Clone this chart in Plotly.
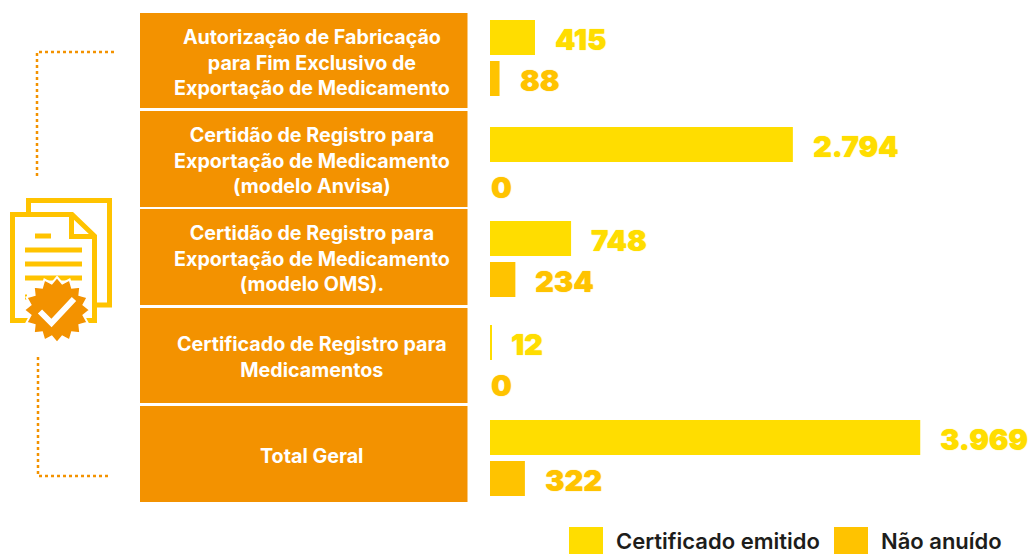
import math
import plotly.graph_objects as go

categories = [
    "Autorização de Fabricação<br>para Fim Exclusivo de<br>Exportação de Medicamento",
    "Certidão de Registro para<br>Exportação de Medicamento<br>(modelo Anvisa)",
    "Certidão de Registro para<br>Exportação de Medicamento<br>(modelo OMS).",
    "Certificado de Registro para<br>Medicamentos",
    "Total Geral",
]
certificado_emitido = [415, 2794, 748, 12, 3969]
nao_anuido = [88, 0, 234, 0, 322]
series_names = ["Certificado emitido", "Não anuído"]

W, H = 1030, 554
ORANGE, YELLOW, AMBER, INK = "#F39200", "#FFDD00", "#FFC300", "#1D1D1B"
PX_PER_UNIT = 0.1084
BAR_H = 35
first_bar_y = [37.5, 144.5, 238.5, 342.5, 437.5]
second_bar_y = [78.5, 185.5, 279.5, 383.5, 478.5]
tile_tops = [13, 111, 209, 308, 406]
tile_bottoms = [108, 207, 305, 403, 502]
LABEL_FONT = dict(family="Inter, Lato", size=29, weight=900)
TILE_FONT = dict(family="Inter", size=19.7, weight=700, color="white")


def fmt(v):
    return f"{v:,}".replace(",", ".")


fig = go.Figure()
for name, vals, ys, col in [
    (series_names[0], certificado_emitido, first_bar_y, YELLOW),
    (series_names[1], nao_anuido, second_bar_y, AMBER),
]:
    fig.add_trace(go.Bar(x=vals, y=ys, name=name, orientation="h", width=BAR_H,
                         marker=dict(color=col, line=dict(width=0)),
                         xaxis="x2", yaxis="y", showlegend=False, hoverinfo="x+name"))

annotations = []
for vals, ys, col in [(certificado_emitido, first_bar_y, YELLOW), (nao_anuido, second_bar_y, AMBER)]:
    for v, y in zip(vals, ys):
        annotations.append(dict(x=v, y=y + 2, xref="x2", yref="y", text=fmt(v), showarrow=False,
                                xanchor="left", yanchor="middle", xshift=18 if v else -1.5,
                                font=dict(color=col, shadow=f"0 0 1px {col}", **LABEL_FONT)))

shapes = []
for top, bottom, label in zip(tile_tops, tile_bottoms, categories):
    shapes.append(dict(type="rect", x0=140, x1=467.5, y0=top, y1=bottom, fillcolor=ORANGE,
                       line_width=0, layer="below"))
    annotations.append(dict(x=311.5, y=(top + bottom) / 2 + 1.5, xref="x", yref="y",
                            text=label, showarrow=False, align="center",
                            xanchor="center", yanchor="middle", font=TILE_FONT))

# legend
for x0, name, tx in [(569, series_names[0], 614), (834, series_names[1], 879)]:
    col = YELLOW if name == series_names[0] else AMBER
    shapes.append(dict(type="rect", x0=x0, x1=x0 + 34, y0=527, y1=554, fillcolor=col, line_width=0))
    annotations.append(dict(x=tx, y=541, xref="x", yref="y", text=name, showarrow=False, xanchor="left",
                            yanchor="middle", font=dict(family="Inter", size=22, weight=600, color=INK)))

# dotted bracket
dot = dict(color=ORANGE, width=2.5, dash="dot")
shapes.append(dict(type="path", path="M 114 52 H 37 V 178", line=dot))
shapes.append(dict(type="path", path="M 38 357 V 476 H 110", line=dot))

# document icon
stroke = dict(color=AMBER, width=5)
shapes.append(dict(type="path", path="M 28.5 212 V 200.5 H 109.5 V 305 H 94", line=stroke))
shapes.append(dict(type="path", fillcolor="white",
                   path="M 12.5 214.5 H 72 L 94.5 236 V 320.5 H 12.5 Z", line=stroke))
shapes.append(dict(type="path", path="M 71.5 214.5 V 236.5 H 94", line=stroke))
for x0, x1, y in [(35, 51, 236), (25, 82, 250), (25, 82, 264), (25, 82, 278), (25, 27, 297)]:
    shapes.append(dict(type="line", x0=x0, x1=x1, y0=y, y1=y, line=dict(color=AMBER, width=5)))
# badge
pts = []
n = 16
for i in range(2 * n):
    r = 33 if i % 2 == 0 else 27
    a = -math.pi / 2 + i * math.pi / n
    pts.append((57 + r * math.cos(a), 310 + r * math.sin(a)))
shapes.append(dict(type="path", path="M " + " L ".join(f"{x:.1f} {y:.1f}" for x, y in pts) + " Z",
                   fillcolor=ORANGE, line=dict(color="white", width=2)))
shapes.append(dict(type="path", path="M 40 311.5 L 51.5 323 L 74 299",
                   line=dict(color="white", width=6)))

fig.update_layout(
    width=W, height=H, margin=dict(l=0, r=0, t=0, b=0), paper_bgcolor="white", plot_bgcolor="white",
    barmode="overlay", shapes=shapes, annotations=annotations,
    xaxis=dict(domain=[0, 1], range=[0, W], visible=False, fixedrange=True),
    xaxis2=dict(domain=[490 / W, 1], range=[0, (W - 490) / PX_PER_UNIT], visible=False, anchor="y", fixedrange=True),
    yaxis=dict(domain=[0, 1], range=[H, 0], visible=False, fixedrange=True),
)
# keep the pixel axis alive
fig.add_trace(go.Scatter(x=[0, W], y=[0, H], mode="markers", marker=dict(opacity=0), xaxis="x", yaxis="y",
                         showlegend=False, hoverinfo="skip"))
fig.write_html("out.html", config=dict(displayModeBar=False),
               post_script="document.body.style.margin='0';")
